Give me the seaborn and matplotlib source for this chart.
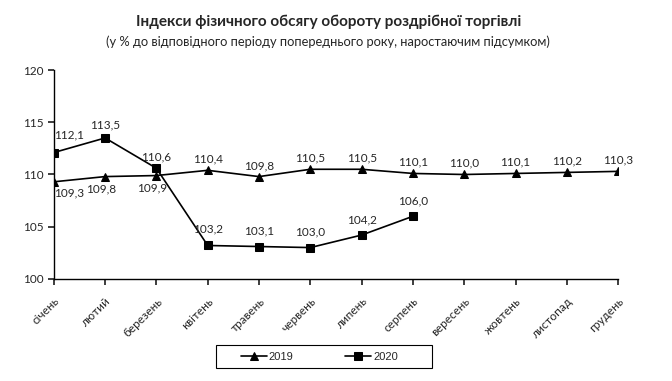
import matplotlib
matplotlib.use("Agg")
import matplotlib.pyplot as plt
from matplotlib.patches import Rectangle
import numpy as np
import pandas as pd
import seaborn as sns

months = ["січень", "лютий", "березень", "квітень", "травень", "червень",
          "липень", "серпень", "вересень", "жовтень", "листопад", "грудень"]
vals_2019 = [109.3, 109.8, 109.9, 110.4, 109.8, 110.5, 110.5, 110.1, 110.0, 110.1, 110.2, 110.3]
vals_2020 = [112.1, 113.5, 110.6, 103.2, 103.1, 103.0, 104.2, 106.0]

sns.set_theme(style="white")
plt.rcParams["font.family"] = ["Lato", "DejaVu Sans"]

df19 = pd.DataFrame({"x": np.arange(len(vals_2019)), "y": vals_2019, "year": "2019"})
df20 = pd.DataFrame({"x": np.arange(len(vals_2020)), "y": vals_2020, "year": "2020"})
df = pd.concat([df19, df20], ignore_index=True)

fig = plt.figure(figsize=(6.72, 3.81), dpi=100)
ax = fig.add_axes([0.080, 0.268, 0.840, 0.548])

sns.lineplot(data=df, x="x", y="y", hue="year", style="year",
             palette={"2019": "black", "2020": "black"},
             markers={"2019": "^", "2020": "s"}, dashes=False,
             markersize=6, linewidth=1.2, markeredgecolor="black", ax=ax)

def fmt(v):
    return f"{v:.1f}".replace(".", ",")

# label offsets (points)
off19 = [(11, -8), (-3, -9), (-3, -9)] + [(0, 8)] * 9
off20 = [(11, 13), (0, 9.5), (0, 8), (0, 12), (0, 11), (0, 11), (0, 11), (0, 11)]
for i, v in enumerate(vals_2019):
    ax.annotate(fmt(v), (i, v), xytext=off19[i], textcoords="offset points",
                ha="center", va="center", fontsize=8.5)
for i, v in enumerate(vals_2020):
    ax.annotate(fmt(v), (i, v), xytext=off20[i], textcoords="offset points",
                ha="center", va="center", fontsize=8.5)

ax.set_xlim(0, len(months) - 1)
ax.set_ylim(100, 120)
ax.set_yticks([100, 105, 110, 115, 120])
ax.set_xticks(np.arange(len(months)))
ax.set_xticklabels(months, rotation=45, ha="right", rotation_mode="anchor", fontsize=8.5)
ax.tick_params(axis="y", labelsize=8.5, length=4, direction="out", left=True)
ax.tick_params(axis="x", length=4, direction="out", bottom=True, pad=8)
ax.set_xlabel("")
ax.set_ylabel("")
for s in ["top", "right"]:
    ax.spines[s].set_visible(False)
for s in ["left", "bottom"]:
    ax.spines[s].set_color("black")
    ax.spines[s].set_linewidth(1.0)

handles, labels = ax.get_legend_handles_labels()
ax.get_legend().remove()
leg = fig.legend(handles, labels, loc="center", bbox_to_anchor=(0.475, 0.062), ncol=2,
                 frameon=False, fontsize=8, handlelength=2.35, handletextpad=0.2,
                 columnspacing=4.6)
for t in leg.get_texts():
    t.set_family(["Liberation Sans", "DejaVu Sans"])
fig.add_artist(Rectangle((216 / 672, 1 - 368 / 381), 216 / 672, 23 / 381,
                         transform=fig.transFigure, fill=False,
                         edgecolor="black", linewidth=0.8))

fig.text(0.489, 0.942, "Індекси фізичного обсягу обороту роздрібної торгівлі",
         ha="center", va="center", fontsize=11, fontweight="bold")
fig.text(0.488, 0.89, "(у % до відповідного періоду попереднього року, наростаючим підсумком)",
         ha="center", va="center", fontsize=9.3)

fig.savefig("out.png", dpi=100)
